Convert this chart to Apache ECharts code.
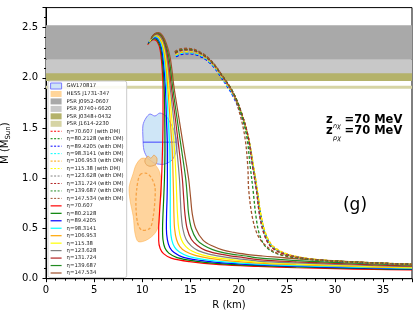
<!DOCTYPE html>
<html><head><meta charset="utf-8">
<script src="https://cdn.jsdelivr.net/npm/echarts@6/dist/echarts.min.js"></script>
<style>html,body{margin:0;padding:0;background:#fff}#c{width:419px;height:319px}</style>
</head><body><div id="c"></div>
<script>
// ---------- data ----------
const etaLabels = ['70.607','80.2128','89.4205','98.3141','106.953','115.38','123.628','131.724','139.687','147.534'];
const curveColors = ['#ff0000','#008000','#0000ff','#00ffff','#ffa500','#ffff00','#808080','#b22222','#228b22','#a0522d'];

// Observational mass bands [low, high] (Msun)
const bandNames = ['PSR J0952-0607','PSR J0740+6620','PSR J0348+0432','PSR J1614-2230'];
const bandLow  = [2.18, 2.01, 1.97, 1.892];
const bandHigh = [2.525, 2.178, 2.046, 1.922];
const bandColors = ['#a9a9a9','#c8c8c8','#b4b26a','#d6d4a4'];

// GW170817 region [R, M]
const gwRegion = [[10.38,1.60],[10.79,1.64],[11.31,1.62],[11.83,1.65],[12.45,1.62],[12.87,1.56],[13.28,1.48],[13.59,1.36],[13.49,1.26],[13.07,1.18],[12.24,1.14],[11.31,1.15],[10.58,1.20],[10.17,1.28],[10.07,1.40],[10.07,1.53]];
const gwMeanLine = [[10.07,1.36],[13.6,1.36]];
// HESS J1731-347 region [R, M]
const hessOuter = [[9.34,1.132],[9.93,1.199],[10.79,1.182],[11.49,1.116],[11.83,1.05],[12.01,0.883],[11.83,0.717],[11.76,0.552],[11.31,0.452],[10.45,0.385],[9.58,0.369],[9.24,0.452],[9.06,0.618],[8.72,0.784],[8.64,0.916],[9.06,1.05]];
const hessInner = [[9.75,1.033],[10.45,1.05],[10.97,1.0],[11.31,0.916],[11.31,0.784],[11.13,0.618],[10.79,0.502],[9.93,0.485],[9.52,0.552],[9.34,0.717],[9.41,0.883]];
const hessBlob = [[10.27,1.18],[10.58,1.22],[10.89,1.20],[11.2,1.23],[11.51,1.20],[11.41,1.14],[10.79,1.12],[10.38,1.14]];

// M-R curves without DM (solid)
const eta70607 = [[10.55,2.33],[10.85,2.365],[11.2,2.38],[11.55,2.36],[11.85,2.28],[12.05,2.1],[12.15,1.9],[12.15,1.6],[12.1,1.3],[12.0,1.0],[11.88,0.8],[11.78,0.65],[11.7,0.5],[11.7,0.38],[11.85,0.3],[12.2,0.25],[13.0,0.205],[14.9,0.17],[18,0.14],[22,0.122],[26,0.109],[30,0.1],[34,0.093],[38,0.087]];
const eta802128 = [[10.6,2.34],[10.9,2.375],[11.25,2.39],[11.6,2.37],[11.92,2.29],[12.14,2.11],[12.27,1.9],[12.33,1.6],[12.35,1.3],[12.3,1.0],[12.22,0.8],[12.15,0.65],[12.1,0.5],[12.15,0.385],[12.35,0.305],[12.75,0.255],[13.6,0.21],[15.5,0.175],[18,0.15],[22,0.13],[26,0.117],[30,0.107],[34,0.099],[38,0.092]];
const eta894205 = [[10.65,2.35],[10.95,2.385],[11.3,2.4],[11.67,2.38],[12.0,2.3],[12.23,2.12],[12.4,1.9],[12.5,1.6],[12.6,1.3],[12.6,1.0],[12.57,0.8],[12.52,0.65],[12.5,0.5],[12.6,0.39],[12.85,0.31],[13.3,0.26],[14.2,0.215],[16,0.182],[18,0.16],[22,0.138],[26,0.124],[30,0.113],[34,0.104],[38,0.097]];
const eta983141 = [[10.7,2.355],[11.0,2.395],[11.35,2.41],[11.73,2.385],[12.08,2.305],[12.33,2.13],[12.52,1.9],[12.68,1.6],[12.85,1.3],[12.9,1.0],[12.9,0.8],[12.9,0.65],[12.92,0.5],[13.05,0.39],[13.35,0.315],[13.85,0.265],[14.8,0.222],[16.5,0.19],[18.5,0.168],[22,0.146],[26,0.131],[30,0.12],[34,0.11],[38,0.102]];
const eta106953 = [[10.75,2.36],[11.05,2.405],[11.4,2.42],[11.8,2.39],[12.15,2.31],[12.43,2.14],[12.65,1.9],[12.87,1.6],[13.1,1.3],[13.2,1.0],[13.25,0.8],[13.28,0.65],[13.35,0.5],[13.55,0.39],[13.9,0.32],[14.5,0.27],[15.5,0.232],[17,0.202],[19,0.178],[22,0.155],[26,0.139],[30,0.127],[34,0.116],[38,0.107]];
const eta11538 = [[10.8,2.37],[11.1,2.41],[11.45,2.425],[11.87,2.395],[12.22,2.315],[12.52,2.15],[12.78,1.9],[13.05,1.6],[13.33,1.3],[13.5,1.0],[13.58,0.8],[13.65,0.65],[13.78,0.5],[14.05,0.39],[14.5,0.322],[15.15,0.275],[16.2,0.238],[17.6,0.21],[19.5,0.188],[22,0.164],[26,0.147],[30,0.134],[34,0.122],[38,0.112]];
const eta123628 = [[10.85,2.38],[11.15,2.42],[11.5,2.43],[11.93,2.4],[12.3,2.32],[12.61,2.16],[12.9,1.9],[13.24,1.6],[13.57,1.3],[13.85,1.0],[13.95,0.8],[14.03,0.65],[14.2,0.5],[14.55,0.39],[15.1,0.325],[15.8,0.28],[16.9,0.245],[18.3,0.22],[20,0.198],[22,0.176],[26,0.157],[30,0.143],[34,0.13],[38,0.119]];
const eta131724 = [[10.9,2.39],[11.2,2.43],[11.55,2.44],[12.0,2.41],[12.37,2.33],[12.7,2.17],[13.03,1.9],[13.42,1.6],[13.8,1.3],[14.15,1.0],[14.3,0.8],[14.42,0.65],[14.65,0.5],[15.1,0.39],[15.75,0.328],[16.5,0.285],[17.7,0.252],[19.1,0.228],[20.5,0.21],[22,0.19],[26,0.168],[30,0.152],[34,0.138],[38,0.126]];
const eta139687 = [[10.93,2.395],[11.25,2.435],[11.6,2.445],[12.05,2.415],[12.43,2.335],[12.8,2.185],[13.16,1.9],[13.6,1.6],[14.05,1.3],[14.5,1.0],[14.68,0.8],[14.8,0.65],[15.1,0.5],[15.65,0.39],[16.4,0.33],[17.3,0.29],[18.5,0.258],[19.9,0.236],[21,0.222],[22,0.207],[26,0.18],[30,0.162],[34,0.147],[38,0.134]];
const eta147534 = [[10.95,2.4],[11.3,2.44],[11.7,2.45],[12.1,2.42],[12.5,2.34],[12.9,2.2],[13.3,1.9],[13.8,1.6],[14.3,1.3],[14.8,1.0],[15.02,0.8],[15.18,0.65],[15.55,0.5],[16.3,0.385],[17.3,0.325],[18.4,0.285],[19.5,0.262],[20.8,0.243],[21.8,0.232],[22.5,0.226],[26,0.198],[30,0.178],[34,0.158],[38,0.14]];

// M-R curves with DM (dashed)
const dm70607 = [[13.4,2.25],[14.0,2.28],[14.8,2.285],[16.0,2.25],[17.2,2.16],[18.3,2.02],[19.4,1.86],[20.3,1.65],[21.0,1.41],[21.5,1.12],[21.9,0.88],[22.3,0.62],[22.8,0.43],[23.5,0.315],[25.0,0.24],[27.5,0.195],[31,0.17],[38,0.143]];
const dm802128 = [[13.42,2.245],[14.02,2.275],[14.82,2.28],[16.02,2.245],[17.22,2.155],[18.32,2.015],[19.42,1.855],[20.32,1.645],[21.02,1.405],[21.52,1.12],[21.92,0.88],[22.32,0.62],[22.82,0.43],[23.55,0.315],[25.05,0.24],[27.5,0.196],[31,0.171],[38,0.144]];
const dm894205 = [[13.5,2.21],[14.1,2.235],[14.9,2.24],[16.1,2.21],[17.3,2.12],[18.35,1.98],[19.4,1.82],[20.3,1.62],[21.0,1.39],[21.5,1.11],[21.9,0.87],[22.3,0.61],[22.85,0.42],[23.6,0.31],[25.1,0.237],[27.6,0.193],[31,0.168],[38,0.142]];
const dm983141 = [[13.48,2.22],[14.08,2.245],[14.88,2.25],[16.08,2.22],[17.28,2.13],[18.34,1.99],[19.41,1.83],[20.31,1.63],[21.01,1.395],[21.51,1.115],[21.91,0.875],[22.31,0.615],[22.84,0.425],[23.58,0.312],[25.08,0.238],[27.58,0.194],[31,0.169],[38,0.142]];
const dm106953 = [[13.46,2.23],[14.06,2.255],[14.86,2.26],[16.06,2.23],[17.26,2.14],[18.33,2.0],[19.41,1.84],[20.31,1.64],[21.02,1.4],[21.55,1.12],[21.95,0.88],[22.35,0.62],[22.9,0.43],[23.65,0.318],[25.15,0.243],[27.6,0.197],[31,0.171],[38,0.144]];
const dm11538 = [[13.44,2.235],[14.04,2.262],[14.84,2.267],[16.04,2.235],[17.24,2.145],[18.32,2.005],[19.4,1.845],[20.3,1.64],[21.0,1.4],[21.53,1.12],[21.93,0.88],[22.33,0.62],[22.87,0.43],[23.6,0.316],[25.1,0.241],[27.55,0.196],[31,0.17],[38,0.143]];
const dm123628 = [[13.42,2.24],[14.02,2.268],[14.82,2.274],[16.02,2.24],[17.22,2.15],[18.31,2.01],[19.4,1.85],[20.3,1.645],[21.0,1.405],[21.45,1.12],[21.85,0.88],[22.2,0.62],[22.7,0.43],[23.4,0.315],[24.9,0.24],[27.4,0.195],[31,0.17],[38,0.143]];
const dm131724 = [[13.41,2.245],[14.01,2.274],[14.81,2.28],[16.01,2.245],[17.21,2.155],[18.3,2.015],[19.4,1.855],[20.3,1.648],[21.0,1.408],[21.45,1.12],[21.85,0.88],[22.2,0.62],[22.7,0.43],[23.4,0.315],[24.9,0.24],[27.4,0.195],[31,0.17],[38,0.143]];
const dm139687 = [[13.38,2.255],[13.98,2.284],[14.78,2.29],[15.98,2.255],[17.18,2.165],[18.28,2.025],[19.38,1.865],[20.25,1.65],[20.85,1.41],[21.2,1.12],[21.5,0.88],[21.8,0.62],[22.2,0.43],[22.9,0.31],[24.4,0.235],[27.2,0.193],[31,0.169],[38,0.143]];
const dm147534 = [[13.36,2.26],[13.96,2.29],[14.76,2.295],[15.96,2.26],[17.16,2.17],[18.25,2.03],[19.3,1.87],[20.1,1.65],[20.65,1.41],[20.95,1.12],[21.05,0.88],[21.45,0.6],[22.0,0.43],[22.7,0.34],[24.1,0.25],[27,0.2],[31,0.17],[38,0.143]];

const solidCurves = [eta70607,eta802128,eta894205,eta983141,eta106953,eta11538,eta123628,eta131724,eta139687,eta147534];
const dmCurves = [dm70607,dm802128,dm894205,dm983141,dm106953,dm11538,dm123628,dm131724,dm139687,dm147534];

const xTicks = {min:0, max:38, interval:5};
const yTicks = {min:0, max:2.7, interval:0.5};

// ---------- chart ----------
const chart = echarts.init(document.getElementById('c'), null, {renderer:'canvas'});
const FONT = 'DejaVu Sans';

function bandRender(lo, hi, color){
  return function(params, api){
    const cs = params.coordSys;
    const yt = api.coord([0, hi])[1], yb = api.coord([0, lo])[1];
    return {type:'rect', shape:{x:cs.x, y:yt, width:cs.width, height:yb-yt}, style:{fill:color}};
  };
}
function polyRender(pts, style, smooth){
  return function(params, api){
    return {type:'polygon', shape:{points: pts.map(p=>api.coord(p)), smooth: smooth}, style: style};
  };
}
function lineRender(pts, style){
  return function(params, api){
    return {type:'polyline', shape:{points: pts.map(p=>api.coord(p))}, style: style};
  };
}

const series = [];
const legendData = [];
// regions
series.push({name:'GW170817', type:'custom', z:3, data:[[0,0]], itemStyle:{color:'#cfe4f6', borderColor:'#7a7aff', borderWidth:1},
  renderItem: polyRender(gwRegion, {fill:'rgba(160,205,240,0.5)', stroke:'#8080ff', lineWidth:1}, 0.3)});
series.push({name:'GW170817', type:'custom', z:3, data:[[0,0]], renderItem: lineRender(gwMeanLine, {stroke:'#4040ff', lineWidth:1})});
legendData.push({name:'GW170817', icon:'rect', itemStyle:{color:'#cfe4f6', borderColor:'#7a7aff', borderWidth:1}});
series.push({name:'HESS J1731-347', type:'custom', z:3, data:[[0,0]], itemStyle:{color:'#ffd59a'},
  renderItem: polyRender(hessOuter, {fill:'rgba(255,170,60,0.5)', stroke:'rgba(255,170,60,0.5)', lineWidth:1}, 0.3)});
series.push({name:'HESS J1731-347', type:'custom', z:3, data:[[0,0]],
  renderItem: polyRender(hessInner, {fill:'none', stroke:'#f7a345', lineWidth:1.3, lineDash:[3,2]}, 0.3)});
series.push({name:'HESS J1731-347', type:'custom', z:3, data:[[0,0]],
  renderItem: polyRender(hessBlob, {fill:'rgba(240,200,140,0.8)', stroke:'#e8a860', lineWidth:1}, 0.3)});
legendData.push({name:'HESS J1731-347', icon:'rect', itemStyle:{color:'#ffd59a'}});
// bands
bandNames.forEach((n,i)=>{
  series.push({name:n, type:'custom', z:1, data:[[0,0]], itemStyle:{color:bandColors[i]}, renderItem: bandRender(bandLow[i], bandHigh[i], bandColors[i])});
  legendData.push({name:n, icon:'rect', itemStyle:{color:bandColors[i]}});
});
// dashed (with DM)
dmCurves.forEach((d,i)=>{
  const n = 'η=' + etaLabels[i] + ' (with DM)';
  series.push({name:n, type:'line', z:5, data:d, symbol:'none', showSymbol:false, smooth:0.35, color:curveColors[i],
    lineStyle:{color:curveColors[i], width:1.3, type:[3,2]}});
  legendData.push({name:n, itemStyle:{opacity:0}, lineStyle:{width:1, type:[2,1.5]}});
});
// solid
solidCurves.forEach((d,i)=>{
  const n = 'η=' + etaLabels[i];
  series.push({name:n, type:'line', z:4, data:d, symbol:'none', showSymbol:false, smooth:0.35, color:curveColors[i],
    lineStyle:{color:curveColors[i], width:1.2}});
  legendData.push({name:n, itemStyle:{opacity:0}, lineStyle:{width:1.2}});
});

const axisCommon = {
  axisLine:{show:true, onZero:false, lineStyle:{color:'#000', width:1}},
  axisTick:{show:true, inside:false, length:3.5, lineStyle:{color:'#000'}},
  minorTick:{show:true, splitNumber:5, length:2, lineStyle:{color:'#000'}},
  splitLine:{show:false},
};

chart.setOption({
  animation:false,
  backgroundColor:'#fff',
  grid:{left:46, right:7, top:7.6, bottom:40.3, outerBoundsMode:'none', containLabel:false, show:true, borderColor:'#000', borderWidth:1, backgroundColor:'transparent'},
  xAxis:Object.assign({type:'value', min:xTicks.min, max:xTicks.max, interval:xTicks.interval,
    name:'R (km)', nameLocation:'middle', nameGap:21, nameTextStyle:{fontFamily:FONT, fontSize:10, color:'#000'},
    axisLabel:{fontFamily:FONT, fontSize:10, color:'#000', margin:7, showMaxLabel:false}}, axisCommon),
  yAxis:Object.assign({type:'value', min:yTicks.min, max:yTicks.max, interval:yTicks.interval,
    name:'{a|M (M}{s|Sun}{a|)}', nameLocation:'middle', nameGap:31, nameRotate:90,
    nameTextStyle:{fontFamily:FONT, color:'#000', rich:{a:{fontFamily:FONT, fontSize:10, color:'#000'}, s:{fontFamily:FONT, fontSize:7, color:'#000', padding:[4,0,0,0]}}},
    axisLabel:{fontFamily:FONT, fontSize:10, color:'#000', margin:8, showMaxLabel:false, formatter:v=>v.toFixed(1)}}, axisCommon),
  legend:{
    data:legendData, orient:'vertical', left:48, top:81, z:20,
    itemWidth:11, itemHeight:6, itemGap:1.46, padding:[1.5,3,1.5,2],
    backgroundColor:'rgba(255,255,255,0.85)', borderColor:'#cccccc', borderWidth:1, borderRadius:2,
    lineStyle:{width:1.2},
    textStyle:{fontFamily:FONT, fontSize:5.3, lineHeight:6, color:'#222'},
    selectedMode:false
  },
  graphic:[
    {type:'text', x:326, y:120, z:30, style:{text:'z', fontFamily:FONT, fontSize:11.5, fontWeight:'bold', fill:'#000', verticalAlign:'middle'}},
    {type:'text', x:333, y:126.5, z:30, style:{text:'nχ', fontFamily:FONT, fontSize:6.5, fontStyle:'italic', fill:'#000', verticalAlign:'middle'}},
    {type:'text', x:344.5, y:120, z:30, style:{text:'=70 MeV', fontFamily:FONT, fontSize:11.5, fontWeight:'bold', fill:'#000', verticalAlign:'middle'}},
    {type:'text', x:326, y:131.5, z:30, style:{text:'z', fontFamily:FONT, fontSize:11.5, fontWeight:'bold', fill:'#000', verticalAlign:'middle'}},
    {type:'text', x:333, y:138, z:30, style:{text:'pχ', fontFamily:FONT, fontSize:6.5, fontStyle:'italic', fill:'#000', verticalAlign:'middle'}},
    {type:'text', x:344.5, y:131.5, z:30, style:{text:'=70 MeV', fontFamily:FONT, fontSize:11.5, fontWeight:'bold', fill:'#000', verticalAlign:'middle'}},
    {type:'text', x:355, y:206, z:30, style:{text:'(g)', fontFamily:FONT, fontSize:17, fill:'#000', align:'center', verticalAlign:'middle'}}
  ],
  series:series
});
</script></body></html>
